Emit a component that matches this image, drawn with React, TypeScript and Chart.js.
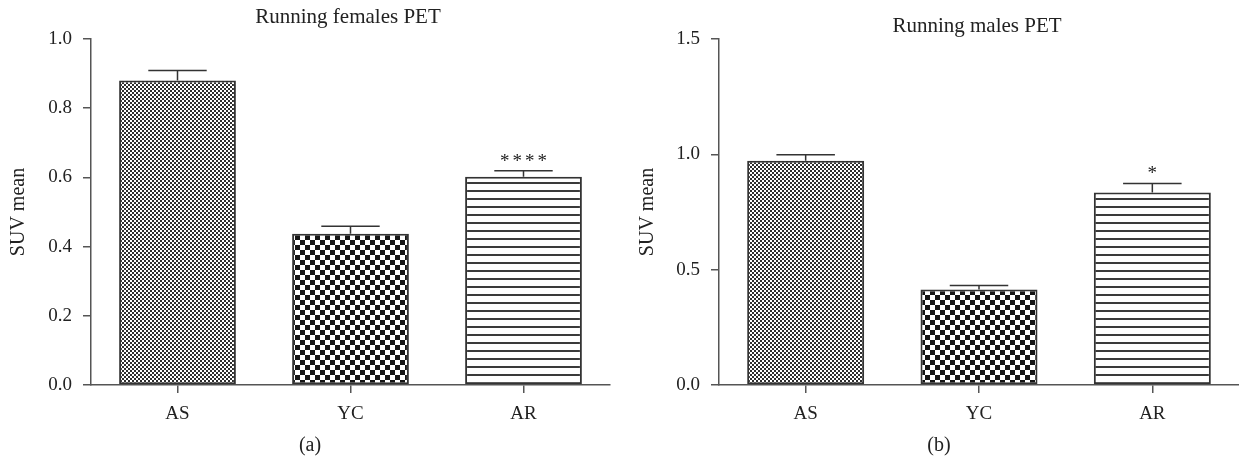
import React, { useEffect, useRef } from 'react';
import { Chart, registerables } from 'chart.js';

Chart.register(...registerables);

const groups = ['AS', 'YC', 'AR'];

// (a) Running females PET
const femaleMeans = [0.88, 0.437, 0.602];
const femaleErrors = [0.029, 0.022, 0.017];
const femaleStars = ['', '', '****'];
const femaleTicks = [0, 0.2, 0.4, 0.6, 0.8, 1.0];

// (b) Running males PET
const maleMeans = [0.972, 0.414, 0.834];
const maleErrors = [0.026, 0.017, 0.04];
const maleStars = ['', '', '*'];
const maleTicks = [0, 0.5, 1.0, 1.5];

const FONT = "'Liberation Serif', 'DejaVu Serif', serif";
const INK = '#222';
const AXIS = '#555';

const makePattern = (kind: string): CanvasPattern | string => {
  const c = document.createElement('canvas');
  const ctx = c.getContext('2d');
  if (!ctx) return '#888';
  if (kind === 'fine') {
    c.width = 4; c.height = 4;
    ctx.fillStyle = '#fff'; ctx.fillRect(0, 0, 4, 4);
    ctx.fillStyle = '#2e2e2e';
    ctx.fillRect(0, 0, 2, 2); ctx.fillRect(2, 2, 2, 2);
  } else if (kind === 'coarse') {
    c.width = 10; c.height = 10;
    ctx.fillStyle = '#fff'; ctx.fillRect(0, 0, 10, 10);
    ctx.fillStyle = '#151515';
    ctx.fillRect(0, 0, 5, 5); ctx.fillRect(5, 5, 5, 5);
  } else {
    c.width = 8; c.height = 8;
    ctx.fillStyle = '#fff'; ctx.fillRect(0, 0, 8, 8);
    ctx.fillStyle = '#3a3a3a';
    ctx.fillRect(0, 6, 8, 2);
  }
  return ctx.createPattern(c, 'repeat') || '#888';
};

// error bars, asterisks, panel title and caption
const annotate = {
  id: 'annotate',
  afterDatasetsDraw(chart: any, _args: any, opts: any) {
    const { ctx } = chart;
    const y = chart.scales.y;
    const meta = chart.getDatasetMeta(0);
    ctx.save();
    meta.data.forEach((bar: any, i: number) => {
      const { x, width } = bar.getProps(['x', 'width'], true);
      const top = y.getPixelForValue(opts.means[i]);
      const tip = y.getPixelForValue(opts.means[i] + opts.errors[i]);
      ctx.strokeStyle = '#333';
      ctx.lineWidth = 1.5;
      ctx.beginPath();
      ctx.moveTo(x, top);
      ctx.lineTo(x, tip);
      ctx.moveTo(x - width / 4, tip);
      ctx.lineTo(x + width / 4, tip);
      ctx.stroke();
      if (opts.stars[i]) {
        ctx.fillStyle = INK;
        ctx.font = `19px ${FONT}`;
        ctx.textAlign = 'center';
        ctx.textBaseline = 'alphabetic';
        (ctx as any).letterSpacing = '3px';
        ctx.fillText(opts.stars[i], x + 1.5, tip - 4);
        (ctx as any).letterSpacing = '0px';
      }
    });
    ctx.fillStyle = INK;
    ctx.textAlign = 'center';
    ctx.textBaseline = 'middle';
    ctx.font = `21px ${FONT}`;
    ctx.fillText(opts.title, opts.titleX, opts.titleY);
    ctx.font = `20px ${FONT}`;
    ctx.fillText(opts.caption, opts.captionX, opts.captionY);
    ctx.restore();
  },
};

type PanelProps = {
  means: number[];
  errors: number[];
  stars: string[];
  ticks: number[];
  title: string;
  caption: string;
  titleX: number;
  titleY: number;
  captionX: number;
  left: number;
  width: number;
  yWidth: number;
  yTitlePad: number;
  rightPad: number;
};

const Panel: React.FC<PanelProps> = (p) => {
  const canvasRef = useRef<HTMLCanvasElement>(null);
  const chartRef = useRef<Chart | null>(null);

  useEffect(() => {
    if (!canvasRef.current) return;
    const ctx = canvasRef.current.getContext('2d');
    if (!ctx) return;
    if (chartRef.current) chartRef.current.destroy();

    chartRef.current = new Chart(ctx, {
      type: 'bar',
      data: {
        labels: groups,
        datasets: [{
          data: p.means,
          backgroundColor: [makePattern('fine'), makePattern('coarse'), makePattern('lines')] as any,
          borderColor: '#333',
          borderWidth: 2,
          borderSkipped: false,
          categoryPercentage: 1,
          barPercentage: 0.675,
        }],
      },
      options: {
        responsive: true,
        maintainAspectRatio: false,
        animation: false,
        events: [],
        layout: { padding: { top: 39, right: p.rightPad, left: 0, bottom: 0 } },
        plugins: {
          legend: { display: false },
          tooltip: { enabled: false },
          annotate: {
            means: p.means,
            errors: p.errors,
            stars: p.stars,
            title: p.title,
            caption: p.caption,
            titleX: p.titleX,
            titleY: p.titleY,
            captionX: p.captionX,
            captionY: 446,
          },
        } as any,
        scales: {
          x: {
            offset: true,
            grid: {
              display: true,
              offset: false,
              drawOnChartArea: false,
              drawTicks: true,
              tickLength: 8,
              tickColor: AXIS,
              lineWidth: 1.5,
            },
            border: { display: true, color: AXIS, width: 1.5 },
            ticks: { color: INK, font: { family: FONT, size: 19 }, padding: 10 },
            afterFit: (scale: any) => { scale.height = 74; },
          },
          y: {
            min: p.ticks[0],
            max: p.ticks[p.ticks.length - 1],
            afterBuildTicks: (scale: any) => {
              scale.ticks = p.ticks.map((v) => ({ value: v }));
            },
            grid: {
              display: true,
              drawOnChartArea: false,
              drawTicks: true,
              tickLength: 8,
              tickColor: AXIS,
              lineWidth: 1.5,
            },
            border: { display: true, color: AXIS, width: 1.5 },
            ticks: {
              color: INK,
              font: { family: FONT, size: 19 },
              padding: 11,
              callback: (v: any) => Number(v).toFixed(1),
            },
            title: {
              display: true,
              text: 'SUV mean',
              color: INK,
              font: { family: FONT, size: 20 },
              padding: { top: p.yTitlePad, bottom: 0 },
            },
            afterFit: (scale: any) => { scale.width = p.yWidth; },
          },
        },
      },
      plugins: [annotate],
    });

    return () => {
      if (chartRef.current) {
        chartRef.current.destroy();
        chartRef.current = null;
      }
    };
  }, []);

  return (
    <div style={{ position: 'absolute', left: p.left, top: 0, width: p.width, height: 459 }}>
      <canvas ref={canvasRef}></canvas>
    </div>
  );
};

const App: React.FC = () => {
  return (
    <div style={{ position: 'absolute', left: 0, top: 0, width: 1239, height: 459, background: '#fff', overflow: 'hidden' }}>
      <Panel
        means={femaleMeans}
        errors={femaleErrors}
        stars={femaleStars}
        ticks={femaleTicks}
        title="Running females PET"
        caption="(a)"
        titleX={348}
        titleY={17}
        captionX={310}
        left={0}
        width={620}
        yWidth={91}
        yTitlePad={7}
        rightPad={10}
      />
      <Panel
        means={maleMeans}
        errors={maleErrors}
        stars={maleStars}
        ticks={maleTicks}
        title="Running males PET"
        caption="(b)"
        titleX={357}
        titleY={26}
        captionX={319}
        left={620}
        width={619}
        yWidth={99}
        yTitlePad={16}
        rightPad={0}
      />
    </div>
  );
};

export default App;
